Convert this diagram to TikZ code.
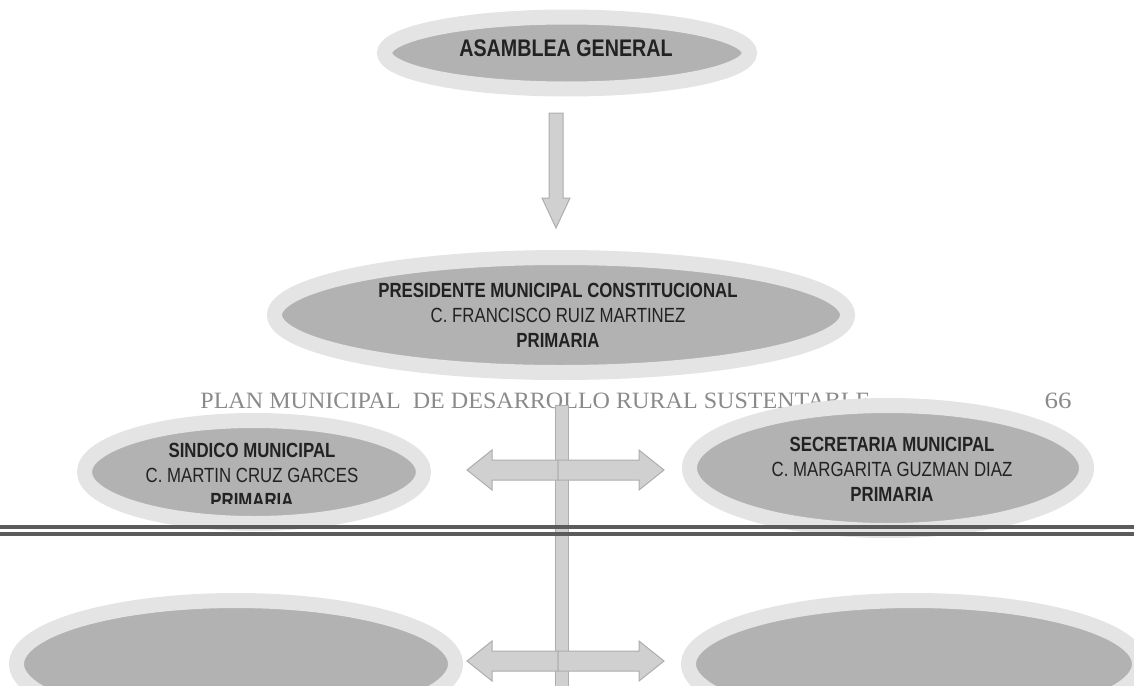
\documentclass[tikz,border=0pt]{standalone}
\usepackage{fontspec}
\usepackage{graphicx}
\usetikzlibrary{shapes.geometric}

\setmainfont{Liberation Serif}
\newfontfamily\narrowsans[FakeStretch=0.82]{Liberation Sans}

\definecolor{ringgray}{HTML}{E4E4E4}
\definecolor{boxgray}{HTML}{B2B2B2}
\definecolor{arrowfill}{HTML}{D0D0D0}
\definecolor{arrowline}{HTML}{ADADAD}
\definecolor{inkgray}{HTML}{222222}
\definecolor{headgray}{HTML}{8A8A8A}
\definecolor{rulegray}{HTML}{5B5B5B}

\newcommand*{\px}{0.5pt}
\newcommand*{\ring}{15}

\tikzset{
	orgellipse/.style 2 args={ellipse, fill=boxgray, draw=ringgray, line width=\ring*\px, inner sep=0pt, minimum width=(#1-\ring)*\px, minimum height=(#2-\ring)*\px},
	orgtext/.style={text=inkgray, align=center, inner sep=0pt, font=\narrowsans\fontsize{10.25}{12.5}\selectfont},
	blockarrow/.style={fill=arrowfill, draw=arrowline, line width=\px, line join=miter},
}

\begin{document}
\begin{tikzpicture}[x=\px, y=-\px]

	\useasboundingbox (0,0) rectangle (1134,685);
	\clip (0,0) rectangle (1134,685);

	% page header
	\node[anchor=base west, inner sep=0pt, text=headgray, font=\fontsize{11.7}{14}\selectfont] (header) at (200,408) {\resizebox{335pt}{\height}{PLAN MUNICIPAL\ \ DE DESARROLLO RURAL SUSTENTABLE}};
	\node[anchor=base east, inner sep=0pt, text=headgray, font=\fontsize{11.7}{14}\selectfont] (pagenum) at (1072,408) {\resizebox{13.5pt}{\height}{66}};

	% ellipses
	\node[orgellipse={380}{87}] (asamblea) at (567,53) {};
	\node[orgellipse={588}{130}] (presidente) at (561,315) {};
	\node[orgellipse={354}{118}] (sindico) at (254,472) {};
	\node[orgellipse={412}{140}] (secretaria) at (888,468) {};
	\node[orgellipse={454}{142}] (abajoizq) at (236,664) {};
	\node[orgellipse={466}{142}] (abajoder) at (914,664) {};

	% trunk
	\coordinate (bartop) at (555,405);
	\coordinate (barend) at (568,700);
	\draw[blockarrow] (bartop) rectangle (barend);

	% asamblea -> presidente
	\coordinate (downtop) at (556,113);
	\coordinate (downtip) at (556,228);
	\draw[blockarrow] (downtop) ++(-7,0) -- ++(0,85) -- ++(-7,0) -- (downtip) -- ++(14,-30) -- ++(-7,0) -- ++(0,-85) -- cycle;

	% side arrows
	\coordinate (jsup) at (558,470);
	\coordinate (jinf) at (558,661);
	\foreach \j in {jsup,jinf} {
		\draw[blockarrow] (\j) ++(0,-10) -- ++(-66,0) -- ++(0,-10) -- ++(-25,20) -- ++(25,20) -- ++(0,-10) -- ++(66,0) -- cycle;
		\draw[blockarrow] (\j) ++(0,-10) -- ++(81,0) -- ++(0,-10) -- ++(25,20) -- ++(-25,20) -- ++(0,-10) -- ++(-81,0) -- cycle;
	}

	% texts
	\node[orgtext, font=\narrowsans\bfseries\fontsize{12}{14}\selectfont] (asamblea-txt) at (566,48.5) {ASAMBLEA GENERAL};
	\node[orgtext] (presidente-txt) at (558,315.5) {\textbf{PRESIDENTE MUNICIPAL CONSTITUCIONAL}\\C. FRANCISCO RUIZ MARTINEZ\\\textbf{PRIMARIA}};
	\node[orgtext] (secretaria-txt) at (892,469.5) {\textbf{SECRETARIA MUNICIPAL}\\C. MARGARITA GUZMAN DIAZ\\\textbf{PRIMARIA}};
	\begin{scope}
		\clip (0,0) rectangle (1134,503);
		\node[orgtext] (sindico-txt) at (252,475.5) {\textbf{SINDICO MUNICIPAL}\\C. MARTIN CRUZ GARCES\\\textbf{PRIMARIA}};
	\end{scope}

	% rules
	\draw[rulegray, line width=4*\px] (0,527) -- (1134,527);
	\draw[rulegray, line width=4*\px] (0,534) -- (1134,534);

\end{tikzpicture}
\end{document}
